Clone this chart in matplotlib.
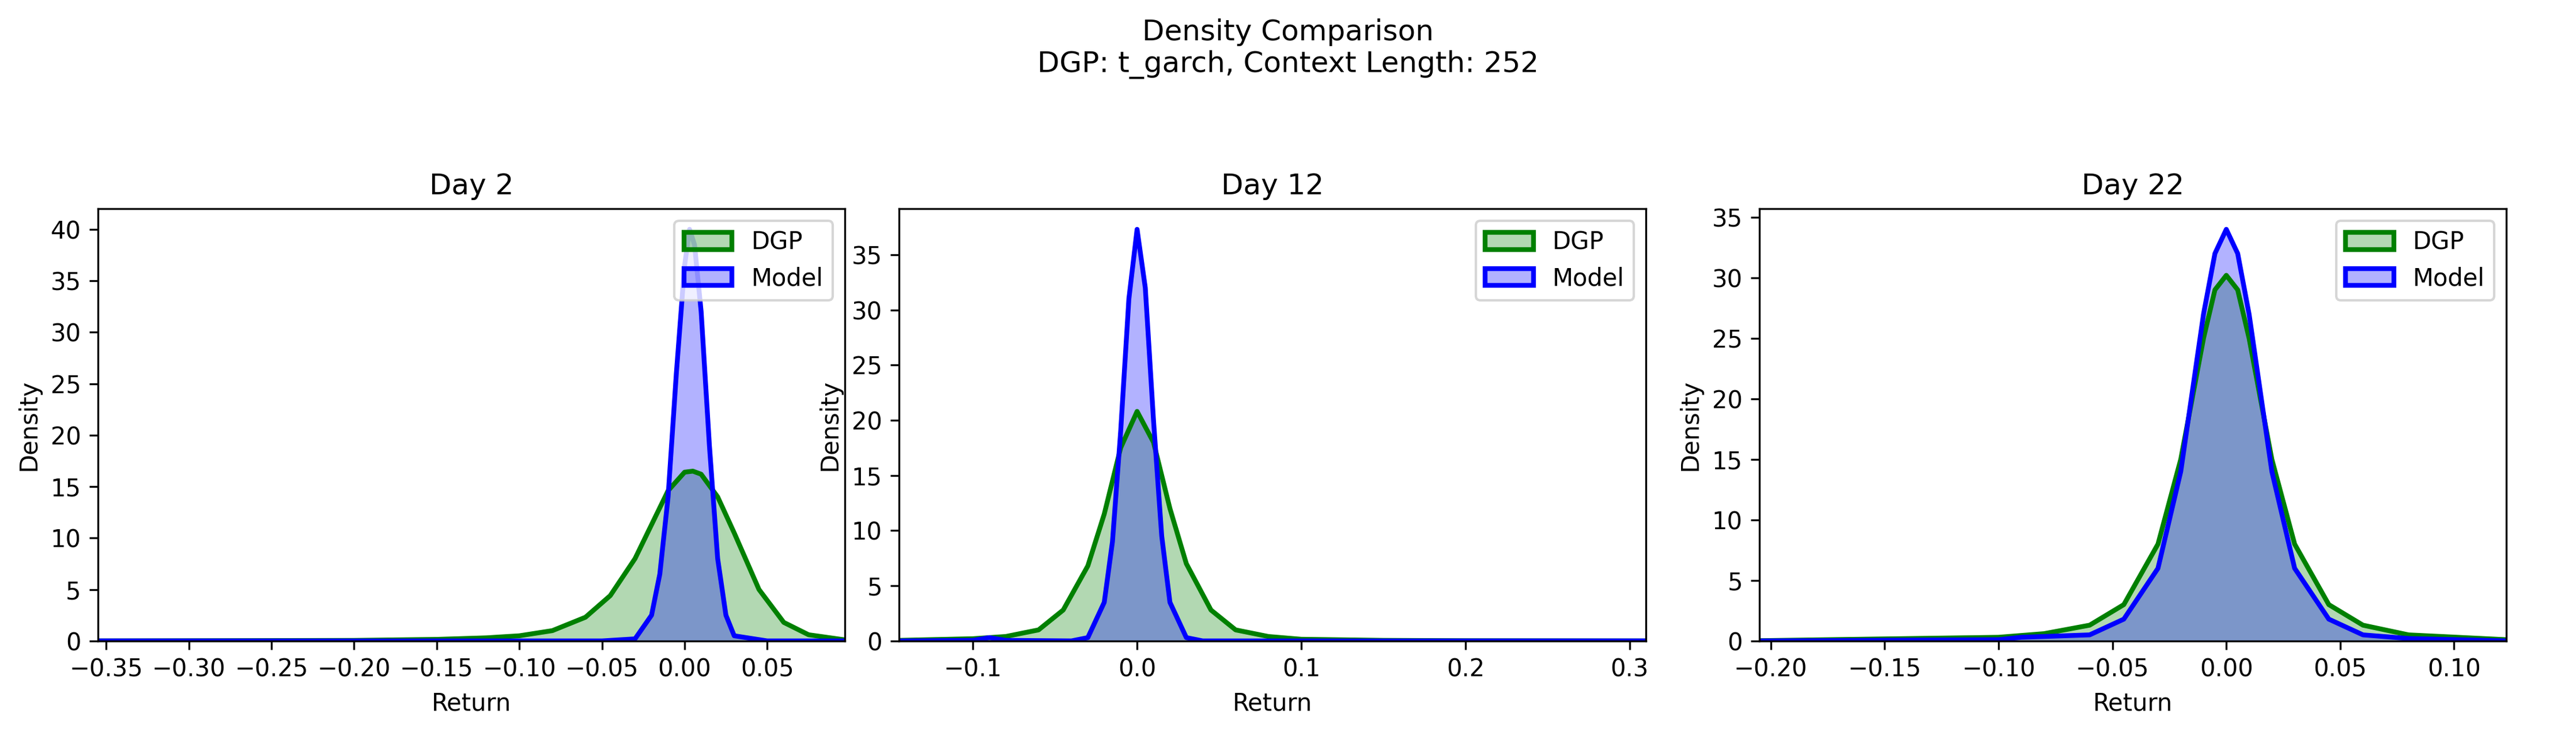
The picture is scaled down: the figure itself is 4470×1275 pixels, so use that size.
import matplotlib
matplotlib.use("Agg")
import matplotlib.pyplot as plt
from matplotlib.patches import Patch
from matplotlib.colors import to_rgba
from matplotlib.ticker import MultipleLocator

days = ["Day 2", "Day 12", "Day 22"]
xlims = [(-0.355, 0.097), (-0.145, 0.31), (-0.205, 0.123)]
xsteps = [0.05, 0.1, 0.05]

dgp_x1 = [-0.355,-0.2,-0.15,-0.12,-0.1,-0.08,-0.06,-0.045,-0.03,-0.02,-0.01,0,0.005,0.01,0.02,0.03,0.045,0.06,0.075,0.097]
dgp_y1 = [0,0.05,0.15,0.3,0.5,1.0,2.3,4.4,8.0,11.3,14.6,16.4,16.5,16.2,14.0,10.5,5.0,1.8,0.6,0.1]
mod_x1 = [-0.355,-0.05,-0.03,-0.02,-0.015,-0.01,-0.005,0,0.003,0.006,0.01,0.015,0.02,0.025,0.03,0.05,0.097]
mod_y1 = [0,0,0.2,2.5,6.5,14,26,36.5,40,38.5,32,19,8,2.5,0.5,0,0]

dgp_x2 = [-0.145,-0.1,-0.08,-0.06,-0.045,-0.03,-0.02,-0.01,0,0.01,0.02,0.03,0.045,0.06,0.08,0.1,0.15,0.2,0.31]
dgp_y2 = [0.05,0.2,0.4,1.0,2.8,6.8,11.5,17.5,20.8,18,12,7,2.8,1.0,0.4,0.15,0.05,0.02,0]
mod_x2 = [-0.145,-0.1,-0.09,-0.08,-0.04,-0.03,-0.02,-0.015,-0.01,-0.005,0,0.005,0.01,0.015,0.02,0.03,0.04,0.1,0.31]
mod_y2 = [0,0.05,0.3,0.05,0,0.3,3.5,9,19,31,37.3,32,20,9.5,3.5,0.3,0,0,0]

dgp_x3 = [-0.205,-0.1,-0.08,-0.06,-0.045,-0.03,-0.02,-0.01,-0.005,0,0.005,0.01,0.02,0.03,0.045,0.06,0.08,0.123]
dgp_y3 = [0.02,0.3,0.6,1.3,3,8,15,25,29,30.2,29,25,15,8,3,1.3,0.5,0.1]
mod_x3 = [-0.205,-0.1,-0.09,-0.06,-0.045,-0.03,-0.02,-0.01,-0.005,0,0.005,0.01,0.02,0.03,0.045,0.06,0.08,0.123]
mod_y3 = [0,0.1,0.3,0.5,1.8,6,14,27,32,34,32,27,14,6,1.8,0.5,0.2,0]

dgp = [(dgp_x1, dgp_y1), (dgp_x2, dgp_y2), (dgp_x3, dgp_y3)]
mod = [(mod_x1, mod_y1), (mod_x2, mod_y2), (mod_x3, mod_y3)]

fig = plt.figure(figsize=(14.9, 4.25), dpi=300)
fig.suptitle("Density Comparison\nDGP: t_garch, Context Length: 252", y=0.975, fontsize=12)
lefts = [0.038, 0.349, 0.683]
w = 0.29
for i in range(3):
    ax = fig.add_axes([lefts[i], 0.128, w, 0.588])
    for (x, y), c in [(dgp[i], "green"), (mod[i], "blue")]:
        ax.fill_between(x, y, color=c, alpha=0.3, lw=0)
        ax.plot(x, y, color=c, lw=2)
    ax.set_xlim(*xlims[i])
    ax.set_ylim(0, None)
    ax.xaxis.set_major_locator(MultipleLocator(xsteps[i]))
    ax.yaxis.set_major_locator(MultipleLocator(5))
    ax.set_title(days[i])
    ax.set_xlabel("Return")
    ax.set_ylabel("Density")
    handles = [Patch(facecolor=to_rgba("green", 0.3), edgecolor="green", lw=2, label="DGP"),
               Patch(facecolor=to_rgba("blue", 0.3), edgecolor="blue", lw=2, label="Model")]
    ax.legend(handles=handles, loc="upper right")
fig.savefig("out.png", dpi=300)
